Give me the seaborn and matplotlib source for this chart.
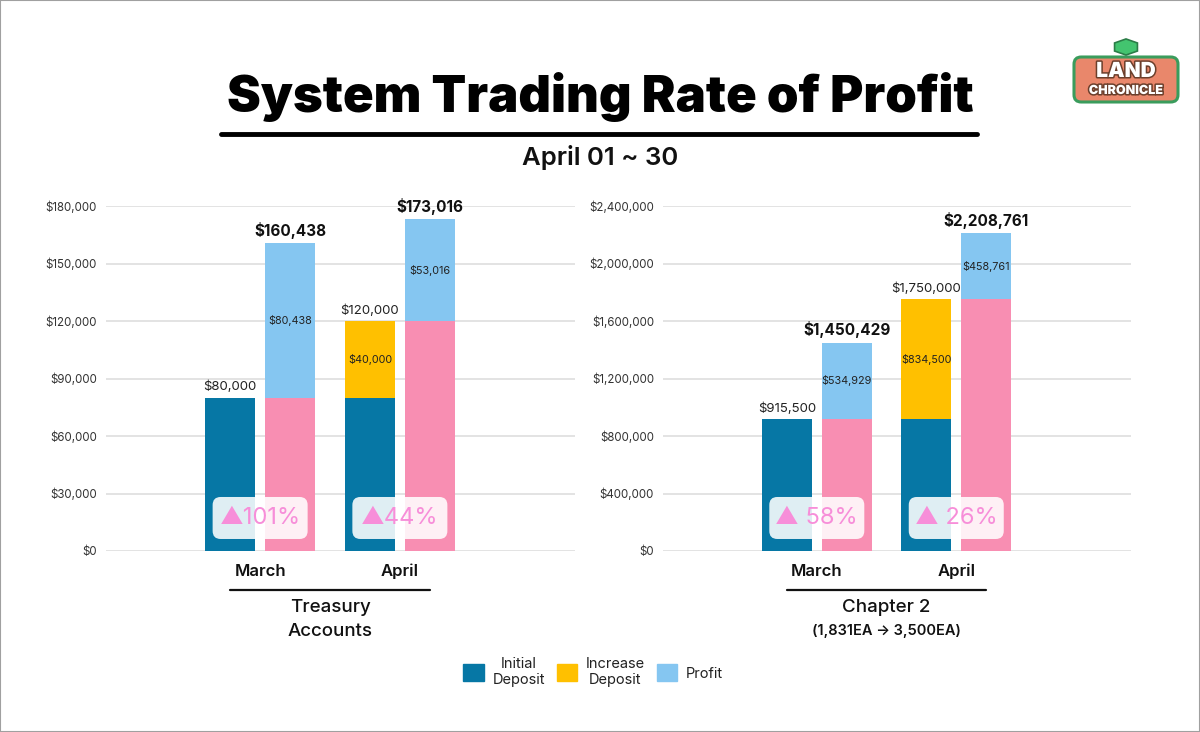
import matplotlib
matplotlib.use("Agg")
import matplotlib.pyplot as plt
import matplotlib.patheffects as pe
import matplotlib.transforms as mtransforms
from matplotlib.patches import Patch, FancyBboxPatch, Rectangle, RegularPolygon
from matplotlib.lines import Line2D
from matplotlib.ticker import FuncFormatter
import seaborn as sns

# data
months = ["March", "April"]

treasury_initial = [80000, 80000]
treasury_increase = [0, 40000]
treasury_profit = [80438, 53016]
treasury_rate = ["▲101%", "▲44%"]

chapter_initial = [915500, 915500]
chapter_increase = [0, 834500]
chapter_profit = [534929, 458761]
chapter_rate = ["▲ 58%", "▲ 26%"]

legend_labels = ["Initial\nDeposit", "Increase\nDeposit", "Profit"]

# colours
BLUE = "#0677a5"
YELLOW = "#ffc000"
LIGHT = "#85c6f1"
PINK = "#f88eb2"
BADGE_TXT = "#f78ed9"

sns.set_theme(style="whitegrid")
plt.rcParams["font.family"] = ["Inter", "DejaVu Sans"]
plt.rcParams["grid.color"] = "#e0e0e0"
plt.rcParams["grid.linewidth"] = 1.3

W, H = 1200, 732
fig = plt.figure(figsize=(12, 7.32), dpi=100, facecolor="white")

blue_pos = [0, 2.33]
bar_w = 0.83


def px(x, y):
    # pixel (from top-left) -> figure fraction
    return x / W, 1 - y / H


def money(v, pos=None):
    return f"${v:,.0f}"


def draw_panel(ax, initial, increase, profit, rates, ymax, step, group, sub=None):
    for i in range(len(months)):
        xb = blue_pos[i]
        xp = xb + 1
        deposit = initial[i] + increase[i]
        total = deposit + profit[i]
        ax.bar(xb, initial[i], width=bar_w, color=BLUE, linewidth=0, zorder=3)
        if increase[i]:
            ax.bar(xb, increase[i], bottom=initial[i], width=bar_w, color=YELLOW,
                   linewidth=0, zorder=3)
            ax.text(xb, initial[i] + increase[i] / 2, money(increase[i]),
                    ha="center", va="center", fontsize=7.8, color="#222222", zorder=4)
        ax.bar(xp, deposit, width=bar_w, color=PINK, linewidth=0, zorder=3)
        ax.bar(xp, profit[i], bottom=deposit, width=bar_w, color=LIGHT, linewidth=0, zorder=3)
        ax.text(xp, deposit + profit[i] / 2, money(profit[i]),
                ha="center", va="center", fontsize=7.8, color="#222222", zorder=4)
        ax.annotate(money(deposit), (xb, deposit), xytext=(0, 3), textcoords="offset points",
                    ha="center", va="bottom", fontsize=9.5, color="#222222")
        ax.annotate(money(total), (xp, total), xytext=(0, 3), textcoords="offset points",
                    ha="center", va="bottom", fontsize=11, fontweight="bold", color="#111111")

    ax.set_xlim(-2.07, 5.75)
    ax.set_ylim(0, ymax)
    ax.set_yticks(range(0, ymax + 1, step))
    ax.yaxis.set_major_formatter(FuncFormatter(money))
    ax.set_xticks([b + 0.5 for b in blue_pos])
    ax.set_xticklabels(months, fontsize=12, fontweight="semibold", color="#111111")
    ax.tick_params(axis="y", length=0, pad=6.5, labelsize=8.3, labelcolor="#333333")
    ax.tick_params(axis="x", length=0, pad=9)
    ax.grid(axis="x", visible=False)
    ax.set_facecolor("white")
    sns.despine(ax=ax, left=True, bottom=True)

    # badges with rate of profit
    fig.canvas.draw()
    tr = mtransforms.blended_transform_factory(ax.transData, ax.transAxes)
    for i, r in enumerate(rates):
        xc = blue_pos[i] + 0.5
        cx, cy = tr.transform((xc, 0.0957))
        box = FancyBboxPatch((cx - 47.5, cy - 21), 95, 42,
                             boxstyle="round,pad=0,rounding_size=8",
                             transform=mtransforms.IdentityTransform(),
                             fc="white", ec="none", alpha=0.88, zorder=5)
        fig.add_artist(box)
        fig.text(cx, cy, r, transform=mtransforms.IdentityTransform(),
                 ha="center", va="center", fontsize=17, color=BADGE_TXT, zorder=6)

    # separator and group label under the months
    ax.add_line(Line2D([blue_pos[0], blue_pos[-1] + 1], [-0.113, -0.113], transform=tr,
                       color="#111111", lw=1.6, clip_on=False))
    mid = (blue_pos[0] + blue_pos[-1] + 1) / 2
    if sub is None:
        ax.text(mid, -0.165, group[0], transform=tr, ha="center", va="center",
                fontsize=13.5, fontweight="medium", color="#111111")
        ax.text(mid, -0.232, group[1], transform=tr, ha="center", va="center",
                fontsize=13.5, fontweight="medium", color="#111111")
    else:
        ax.text(mid, -0.165, group, transform=tr, ha="center", va="center",
                fontsize=13.5, fontweight="medium", color="#111111")
        ax.text(mid, -0.232, sub, transform=tr, ha="center", va="center",
                fontsize=10.5, fontweight="semibold", color="#111111")


ax1 = fig.add_axes([106 / W, 181 / H, 469 / W, 345 / H])
ax2 = fig.add_axes([663 / W, 181 / H, 468 / W, 345 / H])

draw_panel(ax1, treasury_initial, treasury_increase, treasury_profit, treasury_rate,
           180000, 30000, ["Treasury", "Accounts"])
draw_panel(ax2, chapter_initial, chapter_increase, chapter_profit, chapter_rate,
           2400000, 400000, "Chapter 2", "(1,831EA → 3,500EA)")

# title block
fig.text(*px(600, 112), "System Trading Rate of Profit", ha="center", va="baseline",
         fontsize=36.5, fontweight="black", color="black")
x0, y0 = px(221, 134)
x1, _ = px(977, 134)
fig.add_artist(Line2D([x0, x1], [y0, y0], color="black", lw=3.5))
fig.text(*px(600, 157), "April 01 ~ 30", ha="center", va="center",
         fontsize=18.5, fontweight="semibold", color="#111111")

# legend
handles = [Patch(color=BLUE), Patch(color=YELLOW), Patch(color=LIGHT)]
leg = fig.legend(handles, legend_labels, loc="center", bbox_to_anchor=px(593, 672), ncol=3,
                 frameon=False, fontsize=10.5, handlelength=1.4, handleheight=1.4,
                 columnspacing=0.8, handletextpad=0.6)
for t in leg.get_texts():
    t.set_multialignment("center")
    t.set_color("#222222")

# logo (approximation)
bx, by = px(1074, 102)
fig.add_artist(FancyBboxPatch((bx, by), 104 / W, 45 / H,
                              boxstyle="round,pad=0,rounding_size=0.006",
                              mutation_aspect=W / H, transform=fig.transFigure,
                              fc="#e9876b", ec="#3a9c5c", lw=2.2))
fig.add_artist(RegularPolygon(px(1126, 47), 6, radius=0.011, transform=fig.transFigure,
                              fc="#43c46f", ec="#2b7d47", lw=1.2))
stroke = [pe.withStroke(linewidth=2.2, foreground="#6b3f2c")]
fig.text(*px(1126, 71), "LAND", ha="center", va="center", fontsize=15, fontweight="black",
         color="white", path_effects=stroke)
fig.text(*px(1126, 91), "CHRONICLE", ha="center", va="center", fontsize=9, fontweight="black",
         color="white", path_effects=stroke)

# frame
fig.add_artist(Rectangle((0, 0), 1, 1, transform=fig.transFigure, fill=False,
                         ec="#a0a0a0", lw=1.5))

fig.savefig("out.png", dpi=100, facecolor="white")
